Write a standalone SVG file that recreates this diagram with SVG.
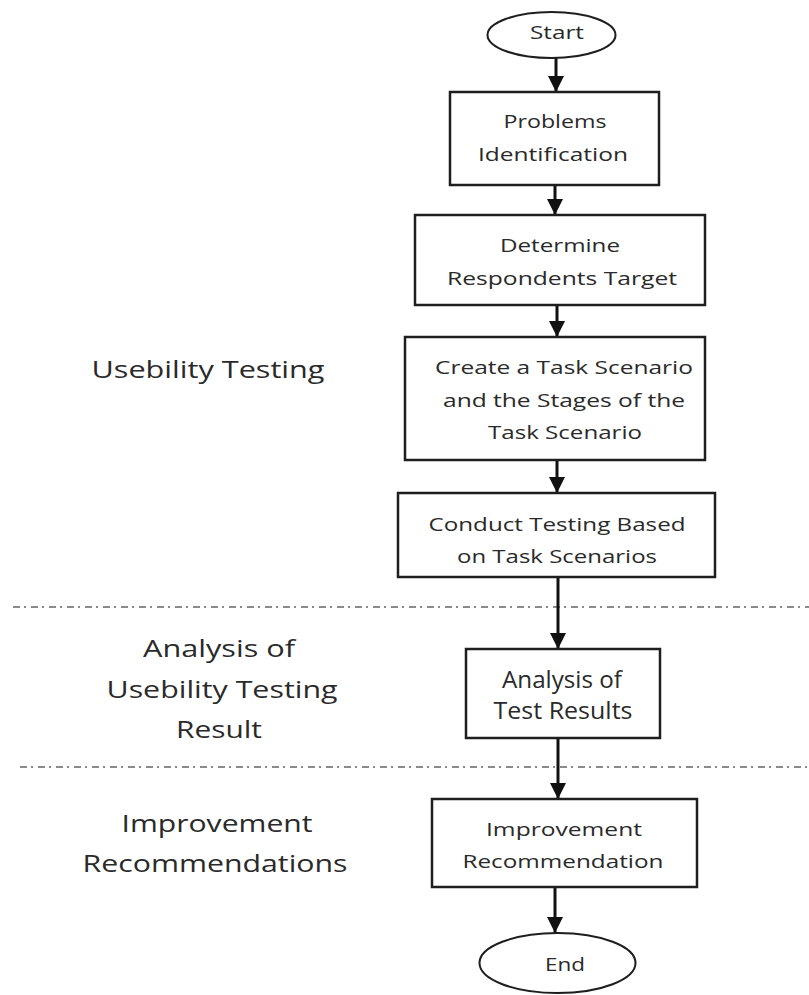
<svg xmlns="http://www.w3.org/2000/svg" width="809" height="995" viewBox="0 0 809 995">
  <style>
    .box { fill: #ffffff; stroke: #1e1e1e; stroke-width: 2.5; }
    .term { fill: #ffffff; stroke: #1e1e1e; stroke-width: 2; }
    .conn { fill: none; stroke: #111111; stroke-width: 3; marker-end: url(#arrow); }
    .sep { fill: none; stroke: #8a8a8a; stroke-width: 2.2; stroke-dasharray: 7 4 2 5; }
    .t { font-family: "Open Sans", "DejaVu Sans", sans-serif; fill: #2a2a2a; text-anchor: middle; font-weight: 500; }
    .s { font-size: 19px; }
    .l { font-size: 23px; }
  </style>
  <defs>
    <marker id="arrow" viewBox="0 0 10 10" refX="10" refY="5" markerWidth="16" markerHeight="16" markerUnits="userSpaceOnUse" orient="auto">
      <path d="M0,0 L10,5 L0,10 z" fill="#111111"/>
    </marker>
  </defs>

  <!-- phase separators -->
  <g id="separators">
    <line class="sep" x1="13" y1="607" x2="809" y2="607"/>
    <line class="sep" x1="20" y1="767" x2="809" y2="767"/>
  </g>

  <!-- phase labels -->
  <g id="phase-usability">
    <text class="t l" x="208" y="378" textLength="233" lengthAdjust="spacingAndGlyphs">Usebility Testing</text>
  </g>
  <g id="phase-analysis">
    <text class="t l" x="219" y="657" textLength="152" lengthAdjust="spacingAndGlyphs">Analysis of</text>
    <text class="t l" x="222" y="698" textLength="231" lengthAdjust="spacingAndGlyphs">Usebility Testing</text>
    <text class="t l" x="219" y="738" textLength="86" lengthAdjust="spacingAndGlyphs">Result</text>
  </g>
  <g id="phase-improvement">
    <text class="t l" x="217" y="832" textLength="191" lengthAdjust="spacingAndGlyphs">Improvement</text>
    <text class="t l" x="215" y="872" textLength="265" lengthAdjust="spacingAndGlyphs">Recommendations</text>
  </g>

  <!-- connectors -->
  <g id="connectors">
    <line class="conn" x1="556" y1="58" x2="556" y2="92"/>
    <line class="conn" x1="555" y1="185" x2="555" y2="215"/>
    <line class="conn" x1="557" y1="305" x2="557" y2="337"/>
    <line class="conn" x1="557" y1="460" x2="557" y2="493"/>
    <line class="conn" x1="558" y1="577" x2="558" y2="649"/>
    <line class="conn" x1="558" y1="738" x2="558" y2="799"/>
    <line class="conn" x1="555" y1="887" x2="555" y2="933"/>
  </g>

  <!-- flow nodes -->
  <g id="start">
    <ellipse class="term" cx="551.5" cy="35" rx="64" ry="23"/>
    <text class="t s" x="557" y="39" textLength="54" lengthAdjust="spacingAndGlyphs">Start</text>
  </g>
  <g id="problems-identification">
    <rect class="box" x="450" y="92" width="209" height="93"/>
    <text class="t s" x="555" y="128" textLength="103" lengthAdjust="spacingAndGlyphs">Problems</text>
    <text class="t s" x="553" y="161" textLength="150" lengthAdjust="spacingAndGlyphs">Identification</text>
  </g>
  <g id="determine-respondents">
    <rect class="box" x="415" y="215" width="290" height="90"/>
    <text class="t s" x="560" y="252" textLength="120" lengthAdjust="spacingAndGlyphs">Determine</text>
    <text class="t s" x="562" y="285" textLength="230" lengthAdjust="spacingAndGlyphs">Respondents Target</text>
  </g>
  <g id="create-task-scenario">
    <rect class="box" x="405" y="337" width="300" height="123"/>
    <text class="t s" x="564" y="374" textLength="258" lengthAdjust="spacingAndGlyphs">Create a Task Scenario</text>
    <text class="t s" x="564" y="407" textLength="242" lengthAdjust="spacingAndGlyphs">and the Stages of the</text>
    <text class="t s" x="565" y="439" textLength="154" lengthAdjust="spacingAndGlyphs">Task Scenario</text>
  </g>
  <g id="conduct-testing">
    <rect class="box" x="398" y="493" width="317" height="84"/>
    <text class="t s" x="557" y="531" textLength="257" lengthAdjust="spacingAndGlyphs">Conduct Testing Based</text>
    <text class="t s" x="557" y="563" textLength="200" lengthAdjust="spacingAndGlyphs">on Task Scenarios</text>
  </g>
  <g id="analysis-results">
    <rect class="box" x="466" y="649" width="194" height="89"/>
    <text class="t l" x="562" y="688" textLength="120" lengthAdjust="spacingAndGlyphs">Analysis of</text>
    <text class="t l" x="563" y="719" textLength="139" lengthAdjust="spacingAndGlyphs">Test Results</text>
  </g>
  <g id="improvement-recommendation">
    <rect class="box" x="432" y="799" width="265" height="88"/>
    <text class="t s" x="564" y="836" textLength="156" lengthAdjust="spacingAndGlyphs">Improvement</text>
    <text class="t s" x="563" y="868" textLength="201" lengthAdjust="spacingAndGlyphs">Recommendation</text>
  </g>
  <g id="end">
    <ellipse class="term" cx="557.5" cy="963" rx="78" ry="30"/>
    <text class="t s" x="565" y="971" textLength="40" lengthAdjust="spacingAndGlyphs">End</text>
  </g>
</svg>
